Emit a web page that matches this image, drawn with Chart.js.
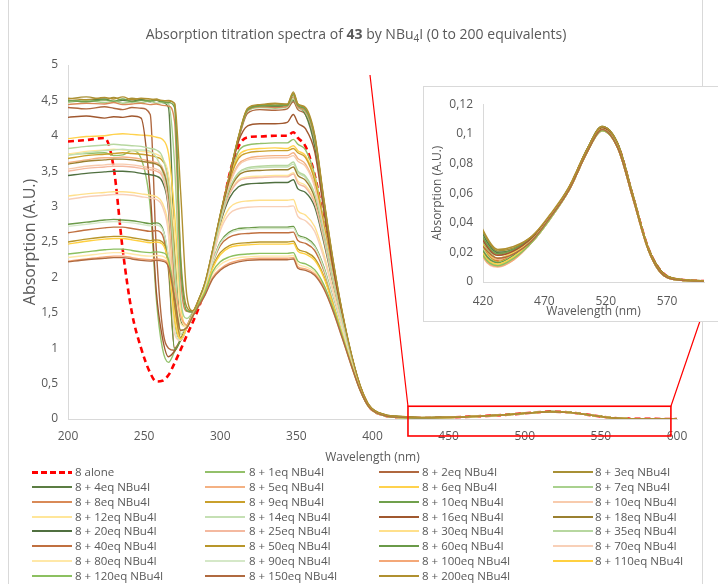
<!DOCTYPE html>
<html><head><meta charset="utf-8">
<script src="https://cdn.jsdelivr.net/npm/chart.js@4"></script>
<style>
html,body{margin:0;padding:0;background:#fff;}
#wrap{position:relative;width:718px;height:584px;overflow:hidden;font-family:'Open Sans',sans-serif;}
#main{position:absolute;left:0;top:0;}
#insetBox{position:absolute;left:423px;top:86px;width:300px;height:234px;border:1px solid #d9d9d9;background:#fff;}
#inset{position:absolute;left:0;top:0;}
.frame{position:absolute;top:0;width:1px;height:584px;background:#d9d9d9;}
.lg{position:absolute;font-size:11.5px;color:#595959;white-space:nowrap;line-height:14px;}
.sw{position:absolute;height:2px;width:40px;}
</style></head>
<body>
<div id="wrap">
  <div class="frame" style="left:8px"></div>
  <div class="frame" style="left:702px"></div>
  <canvas id="main" width="718" height="584"></canvas>
  <div id="insetBox"><canvas id="inset" width="295" height="233"></canvas></div>
  <div id="legend"></div>
</div>
<script>
// ---------- DATA ----------
const wavelengths = [200,212,224,230,236,242,248,254,258,262,266,270,274,278,282,286,290,295,300,306,312,318,326,336,344,348,351,356,362,368,374,380,386,392,398,408,420,432,445,460,475,490,505,517,530,542,555,568,585,600];

const insetTicks = [420, 470, 520, 570];

const seriesNames = ['8 alone','8 + 1eq NBu4I','8 + 2eq NBu4I','8 + 3eq NBu4I','8 + 4eq NBu4I','8 + 5eq NBu4I','8 + 6eq NBu4I','8 + 7eq NBu4I','8 + 8eq NBu4I','8 + 9eq NBu4I','8 + 10eq NBu4I','8 + 10eq NBu4I','8 + 12eq NBu4I','8 + 14eq NBu4I','8 + 16eq NBu4I','8 + 18eq NBu4I','8 + 20eq NBu4I','8 + 25eq NBu4I','8 + 30eq NBu4I','8 + 35eq NBu4I','8 + 40eq NBu4I','8 + 50eq NBu4I','8 + 60eq NBu4I','8 + 70eq NBu4I','8 + 80eq NBu4I','8 + 90eq NBu4I','8 + 100eq NBu4I','8 + 110eq NBu4I','8 + 120eq NBu4I','8 + 150eq NBu4I','8 + 200eq NBu4I'];

const seriesColors = ['#ff0000','#93c06a','#b0683f','#a89035','#5b7d43','#f4b183','#ffd24d','#a9d18e','#d98a57','#c9a02c','#70a04c','#f8cbad','#ffe699','#c5e0b4','#a0582f','#9a8030','#507040','#f4b9a0','#ffe08c','#b7d7a0','#c07040','#b8962a','#6a9a48','#f8d0b8','#ffe8a8','#d5e8c8','#f4a878','#ffd040','#8cc060','#b06a40','#b09030'];

const alone = [3.92,3.94,3.97,3.55,2.38,1.5,1.0,0.65,0.53,0.54,0.62,0.79,0.98,1.18,1.37,1.58,1.86,2.3,2.8,3.45,3.85,3.98,3.99,4.0,4.0,4.05,3.97,3.85,3.45,2.8,2.1,1.45,0.88,0.44,0.17,0.05,0.022,0.014,0.018,0.029,0.044,0.063,0.089,0.104,0.092,0.058,0.022,0.005,0.0012,0.0006];
const eq1 = [3.74,3.75,3.76,3.72,3.73,3.79,3.68,3.0,1.7,1.0,0.8,0.95,1.11,1.29,1.48,1.67,1.89,2.34,2.84,3.38,3.78,3.87,3.89,3.9,3.9,3.95,3.88,3.8,3.45,2.8,2.08,1.46,0.89,0.45,0.17,0.05,0.026,0.016,0.02,0.029,0.044,0.063,0.089,0.104,0.092,0.058,0.022,0.005,0.0012,0.0006];
const eq2 = [4.40,4.38,4.41,4.39,4.37,4.40,4.39,4.3,2.4,1.3,1.0,0.97,1.13,1.31,1.5,1.69,1.9,2.36,2.86,3.41,3.95,4.32,4.37,4.36,4.38,4.48,4.37,4.3,3.92,3.02,2.18,1.49,0.9,0.45,0.18,0.055,0.03,0.019,0.022,0.030,0.045,0.063,0.089,0.104,0.092,0.058,0.022,0.005,0.0012,0.0006];
const eq3 = [4.52,4.55,4.51,4.54,4.50,4.53,4.51,4.50,4.52,4.49,4.50,4.45,2.3,1.58,1.52,1.7,1.92,2.38,2.88,3.43,3.98,4.38,4.43,4.45,4.44,4.62,4.45,4.38,4.0,3.1,2.25,1.52,0.92,0.46,0.19,0.062,0.034,0.021,0.023,0.031,0.045,0.064,0.09,0.105,0.093,0.059,0.022,0.005,0.0015,0.0008];
const eq4 = [4.49,4.50,4.52,4.48,4.50,4.49,4.51,4.48,4.50,4.47,4.40,2.4,1.38,1.31,1.5,1.68,1.90,2.37,2.87,3.42,3.97,4.36,4.42,4.41,4.43,4.50,4.42,4.3,3.85,3.0,2.18,1.5,0.9,0.45,0.18,0.06,0.032,0.02,0.022,0.030,0.045,0.063,0.09,0.105,0.093,0.059,0.022,0.005,0.0014,0.0007];
const eq5 = [3.62,3.66,3.69,3.69,3.70,3.69,3.67,3.64,3.62,3.55,3.2,2.0,1.14,1.3,1.49,1.67,1.88,2.34,2.84,3.32,3.6,3.68,3.71,3.72,3.72,3.76,3.68,3.6,3.3,2.7,2.03,1.44,0.88,0.44,0.17,0.05,0.024,0.015,0.019,0.029,0.044,0.063,0.089,0.104,0.091,0.058,0.022,0.005,0.0012,0.0006];
const eq6 = [3.96,3.99,4.0,4.02,4.03,4.02,4.01,4.0,3.98,3.95,3.75,2.9,1.6,1.33,1.5,1.69,1.9,2.36,2.86,3.38,3.72,3.8,3.82,3.83,3.82,3.86,3.79,3.72,3.4,2.77,2.06,1.45,0.88,0.44,0.17,0.052,0.025,0.016,0.02,0.029,0.044,0.063,0.089,0.104,0.091,0.058,0.022,0.005,0.0012,0.0006];
const eq7 = [4.47,4.50,4.47,4.49,4.46,4.48,4.47,4.49,4.46,4.47,4.45,3.6,1.7,1.42,1.51,1.69,1.91,2.37,2.87,3.42,3.97,4.35,4.40,4.39,4.41,4.52,4.40,4.33,3.95,3.05,2.2,1.5,0.91,0.46,0.18,0.058,0.03,0.019,0.021,0.030,0.045,0.063,0.089,0.104,0.092,0.058,0.022,0.005,0.0012,0.0006];
const eq8 = [4.44,4.46,4.45,4.47,4.44,4.45,4.46,4.44,4.45,4.43,4.42,4.2,2.0,1.52,1.51,1.69,1.91,2.37,2.87,3.42,3.97,4.36,4.41,4.40,4.42,4.55,4.41,4.35,3.97,3.08,2.22,1.51,0.91,0.46,0.18,0.058,0.029,0.018,0.021,0.030,0.045,0.063,0.089,0.104,0.092,0.058,0.022,0.005,0.0012,0.0006];
const eq9 = [3.68,3.72,3.74,3.75,3.76,3.75,3.74,3.72,3.70,3.65,3.4,2.3,1.2,1.3,1.49,1.67,1.88,2.35,2.85,3.36,3.68,3.76,3.78,3.79,3.79,3.82,3.76,3.69,3.37,2.75,2.05,1.45,0.88,0.44,0.17,0.05,0.023,0.014,0.018,0.028,0.044,0.063,0.089,0.104,0.091,0.058,0.022,0.005,0.0012,0.0006];
const eq10a = [4.5,4.48,4.51,4.49,4.52,4.48,4.5,4.49,4.51,4.48,4.47,4.4,2.2,1.53,1.51,1.69,1.92,2.38,2.88,3.43,3.98,4.37,4.42,4.43,4.43,4.58,4.43,4.37,3.99,3.08,2.23,1.51,0.92,0.46,0.18,0.058,0.03,0.019,0.022,0.03,0.045,0.063,0.089,0.104,0.092,0.058,0.022,0.005,0.0012,0.0006];
const eq10b = [3.53,3.57,3.59,3.60,3.60,3.59,3.57,3.55,3.53,3.45,3.05,1.6,1.12,1.29,1.48,1.67,1.88,2.33,2.83,3.3,3.58,3.66,3.68,3.69,3.69,3.72,3.64,3.57,3.28,2.68,2.02,1.43,0.87,0.44,0.17,0.05,0.021,0.012,0.017,0.028,0.044,0.062,0.088,0.103,0.091,0.058,0.021,0.004,0.001,0.0005];
const eq12 = [3.74,3.78,3.80,3.81,3.80,3.79,3.78,3.76,3.74,3.68,3.45,2.6,1.5,1.31,1.49,1.67,1.88,2.32,2.78,3.18,3.38,3.42,3.43,3.44,3.44,3.48,3.36,3.3,3.08,2.56,1.95,1.39,0.86,0.43,0.17,0.05,0.022,0.013,0.018,0.028,0.044,0.062,0.088,0.103,0.091,0.058,0.021,0.004,0.001,0.0005];
const eq14 = [3.72,3.76,3.79,3.80,3.81,3.80,3.80,3.78,3.7,3.5,3.1,2.1,1.2,1.3,1.48,1.67,1.87,2.3,2.79,3.23,3.47,3.53,3.55,3.56,3.56,3.6,3.48,3.41,3.16,2.61,1.97,1.4,0.86,0.43,0.17,0.05,0.019,0.011,0.016,0.027,0.043,0.062,0.088,0.103,0.09,0.057,0.021,0.004,0.001,0.0005];
const eq16 = [4.26,4.28,4.25,4.27,4.26,4.28,4.25,3.2,1.8,1.15,0.88,0.96,1.12,1.3,1.49,1.68,1.89,2.35,2.85,3.4,3.92,4.14,4.17,4.17,4.19,4.3,4.18,4.1,3.78,2.95,2.15,1.48,0.9,0.45,0.18,0.055,0.028,0.018,0.021,0.03,0.045,0.063,0.089,0.104,0.092,0.058,0.022,0.005,0.0012,0.0006];
const eq18 = [3.6,3.64,3.66,3.67,3.67,3.66,3.64,3.62,3.6,3.52,3.15,1.8,1.12,1.29,1.48,1.66,1.87,2.32,2.8,3.22,3.44,3.5,3.51,3.52,3.52,3.56,3.44,3.37,3.13,2.59,1.96,1.4,0.86,0.43,0.17,0.05,0.02,0.012,0.017,0.028,0.044,0.062,0.088,0.103,0.091,0.058,0.021,0.004,0.001,0.0005];
const eq20 = [3.44,3.47,3.49,3.50,3.50,3.49,3.47,3.45,3.43,3.35,2.95,1.4,1.11,1.29,1.48,1.66,1.86,2.3,2.76,3.12,3.28,3.32,3.33,3.34,3.34,3.38,3.25,3.2,3.0,2.5,1.92,1.38,0.85,0.43,0.17,0.05,0.019,0.011,0.016,0.027,0.043,0.062,0.088,0.103,0.09,0.057,0.021,0.004,0.001,0.0005];
const eq25 = [3.5,3.54,3.56,3.57,3.57,3.56,3.54,3.52,3.5,3.42,3.0,1.7,1.13,1.3,1.48,1.66,1.86,2.31,2.78,3.17,3.36,3.4,3.41,3.42,3.42,3.46,3.33,3.27,3.05,2.54,1.94,1.39,0.86,0.43,0.17,0.05,0.02,0.012,0.017,0.028,0.044,0.062,0.088,0.103,0.091,0.058,0.021,0.004,0.001,0.0005];
const eq30 = [3.15,3.18,3.2,3.21,3.21,3.2,3.18,3.16,3.14,3.05,2.7,1.5,1.12,1.29,1.47,1.65,1.85,2.28,2.7,2.98,3.06,3.08,3.09,3.09,3.09,3.1,2.94,2.88,2.72,2.33,1.83,1.33,0.83,0.42,0.16,0.048,0.018,0.011,0.016,0.027,0.043,0.062,0.088,0.103,0.09,0.057,0.021,0.004,0.001,0.0005];
const eq35 = [3.82,3.85,3.87,3.88,3.87,3.86,3.85,3.82,3.8,3.7,3.3,2.2,1.25,1.3,1.48,1.67,1.87,2.3,2.8,3.25,3.48,3.55,3.57,3.58,3.58,3.63,3.5,3.43,3.18,2.62,1.98,1.4,0.86,0.43,0.17,0.05,0.022,0.013,0.018,0.028,0.044,0.062,0.088,0.103,0.091,0.058,0.021,0.004,0.001,0.0005];
const eq40 = [2.63,2.67,2.70,2.71,2.71,2.69,2.67,2.65,2.66,2.6,2.1,1.0,1.12,1.29,1.47,1.65,1.84,2.2,2.45,2.57,2.61,2.62,2.63,2.63,2.63,2.64,2.52,2.48,2.38,2.1,1.68,1.25,0.8,0.41,0.16,0.047,0.02,0.012,0.017,0.028,0.044,0.062,0.088,0.103,0.091,0.058,0.021,0.004,0.001,0.0005];
const eq50 = [2.5,2.54,2.57,2.58,2.58,2.56,2.54,2.52,2.53,2.5,2.3,1.6,1.15,1.3,1.47,1.65,1.83,2.15,2.35,2.45,2.48,2.49,2.5,2.5,2.5,2.51,2.4,2.36,2.27,2.02,1.63,1.22,0.79,0.41,0.16,0.047,0.018,0.011,0.016,0.027,0.043,0.062,0.088,0.103,0.09,0.057,0.021,0.004,0.001,0.0005];
const eq60 = [2.75,2.78,2.81,2.82,2.81,2.8,2.78,2.76,2.77,2.7,2.2,0.98,1.12,1.29,1.47,1.66,1.86,2.22,2.5,2.64,2.69,2.7,2.71,2.71,2.71,2.72,2.6,2.56,2.45,2.15,1.71,1.27,0.81,0.41,0.16,0.047,0.021,0.013,0.018,0.028,0.044,0.062,0.088,0.103,0.091,0.058,0.021,0.004,0.001,0.0005];
const eq70 = [3.1,3.14,3.16,3.17,3.17,3.16,3.14,3.12,3.1,3.0,2.6,1.2,1.11,1.29,1.47,1.66,1.85,2.27,2.66,2.9,2.97,2.99,3.0,3.0,3.0,3.01,2.86,2.8,2.65,2.28,1.8,1.31,0.82,0.42,0.16,0.048,0.017,0.01,0.015,0.027,0.043,0.062,0.088,0.102,0.09,0.057,0.021,0.004,0.001,0.0005];
const eq80 = [2.28,2.31,2.34,2.35,2.35,2.33,2.31,2.3,2.31,2.3,2.2,1.8,1.35,1.3,1.46,1.62,1.78,2.05,2.18,2.25,2.28,2.29,2.3,2.3,2.3,2.31,2.19,2.15,2.08,1.88,1.55,1.17,0.77,0.4,0.16,0.046,0.018,0.011,0.016,0.027,0.043,0.062,0.088,0.102,0.09,0.057,0.021,0.004,0.001,0.0005];
const eq90 = [2.72,2.75,2.78,2.79,2.78,2.77,2.75,2.73,2.74,2.68,2.3,1.3,1.12,1.29,1.47,1.65,1.85,2.21,2.48,2.62,2.67,2.68,2.69,2.69,2.69,2.7,2.58,2.54,2.43,2.13,1.7,1.26,0.8,0.41,0.16,0.047,0.019,0.012,0.017,0.028,0.044,0.062,0.088,0.103,0.09,0.057,0.021,0.004,0.001,0.0005];
const eq100 = [2.23,2.26,2.29,2.3,2.3,2.28,2.26,2.25,2.26,2.25,2.18,1.85,1.45,1.33,1.47,1.6,1.76,2.0,2.12,2.2,2.24,2.26,2.27,2.27,2.27,2.28,2.15,2.12,2.05,1.86,1.54,1.16,0.76,0.4,0.16,0.046,0.017,0.0105,0.015,0.027,0.043,0.062,0.088,0.102,0.09,0.057,0.021,0.004,0.001,0.0005];
const eq110 = [2.47,2.51,2.54,2.55,2.55,2.53,2.51,2.49,2.5,2.47,2.2,1.4,1.13,1.29,1.46,1.64,1.82,2.13,2.32,2.42,2.45,2.46,2.47,2.47,2.47,2.48,2.37,2.33,2.24,2.0,1.62,1.21,0.79,0.41,0.16,0.047,0.019,0.012,0.017,0.028,0.044,0.062,0.088,0.103,0.09,0.057,0.021,0.004,0.001,0.0005];
const eq120 = [2.33,2.36,2.39,2.4,2.4,2.38,2.36,2.35,2.36,2.35,2.25,1.75,1.25,1.29,1.46,1.63,1.79,2.08,2.22,2.29,2.32,2.33,2.34,2.34,2.34,2.35,2.23,2.19,2.11,1.9,1.57,1.18,0.77,0.4,0.16,0.046,0.018,0.011,0.016,0.027,0.043,0.062,0.088,0.102,0.09,0.057,0.021,0.004,0.001,0.0005];
const eq150 = [2.22,2.25,2.27,2.28,2.28,2.26,2.24,2.23,2.24,2.23,2.15,1.7,1.25,1.29,1.45,1.6,1.75,1.98,2.1,2.18,2.22,2.24,2.25,2.25,2.25,2.26,2.13,2.1,2.03,1.84,1.53,1.15,0.76,0.4,0.16,0.046,0.024,0.016,0.019,0.028,0.044,0.062,0.088,0.103,0.09,0.057,0.021,0.004,0.001,0.0005];
const eq200 = [4.53,4.51,4.54,4.52,4.55,4.51,4.53,4.52,4.51,4.5,4.49,4.46,3.2,1.75,1.53,1.69,1.93,2.39,2.89,3.44,3.99,4.39,4.44,4.46,4.45,4.6,4.45,4.4,4.02,3.12,2.26,1.53,0.93,0.47,0.19,0.064,0.035,0.022,0.024,0.031,0.046,0.064,0.09,0.105,0.093,0.059,0.022,0.005,0.0015,0.0008];

const seriesValues = [alone,eq1,eq2,eq3,eq4,eq5,eq6,eq7,eq8,eq9,eq10a,eq10b,eq12,eq14,eq16,eq18,eq20,eq25,eq30,eq35,eq40,eq50,eq60,eq70,eq80,eq90,eq100,eq110,eq120,eq150,eq200];

// ---------- HELPERS ----------
const FONT = "'Open Sans', sans-serif";
const GREY = '#595959';
const fmt = v => String(Math.round(v * 1000) / 1000).replace('.', ',');

function makeDatasets(width) {
  return seriesValues.map((vals, i) => ({
    label: seriesNames[i],
    data: wavelengths.map((w, j) => ({x: w, y: vals[j]})),
    borderColor: seriesColors[i],
    backgroundColor: seriesColors[i],
    borderWidth: i === 0 ? 2.6 : width,
    borderDash: i === 0 ? [6, 4] : [],
    pointRadius: 0,
    cubicInterpolationMode: 'monotone',
    fill: false,
    order: -i
  }));
}

const titlePlugin = {
  id: 'richTitle',
  afterDraw(chart) {
    const ctx = chart.ctx;
    const parts = [
      {t: 'Absorption titration spectra of ', f: `14px ${FONT}`, dy: 0},
      {t: '43', f: `bold 14px ${FONT}`, dy: 0},
      {t: ' by NBu', f: `14px ${FONT}`, dy: 0},
      {t: '4', f: `10px ${FONT}`, dy: 4},
      {t: 'I (0 to 200 equivalents)', f: `14px ${FONT}`, dy: 0}
    ];
    ctx.save();
    ctx.fillStyle = GREY;
    ctx.textBaseline = 'middle';
    let total = 0;
    parts.forEach(p => { ctx.font = p.f; p.w = ctx.measureText(p.t).width; total += p.w; });
    let x = 356 - total / 2;
    parts.forEach(p => { ctx.font = p.f; ctx.fillText(p.t, x, 35 + p.dy); x += p.w; });
    ctx.restore();
  }
};

const zoomMarker = {
  id: 'zoomMarker',
  afterDraw(chart) {
    const {ctx, scales: {x, y}} = chart;
    const x1 = x.getPixelForValue(423.3), x2 = x.getPixelForValue(596);
    const y1 = y.getPixelForValue(0.18), y2 = y.getPixelForValue(-0.24);
    ctx.save();
    ctx.strokeStyle = '#ff0000';
    ctx.lineWidth = 1.6;
    ctx.strokeRect(x1, y1, x2 - x1, y2 - y1);
    ctx.lineWidth = 1.2;
    ctx.beginPath();
    ctx.moveTo(370, 75); ctx.lineTo(x1, y1);
    ctx.moveTo(x2, y1); ctx.lineTo(700, 321);
    ctx.stroke();
    ctx.restore();
  }
};

// ---------- MAIN CHART ----------
new Chart(document.getElementById('main'), {
  type: 'line',
  data: {datasets: makeDatasets(1.4)},
  options: {
    responsive: false, animation: false, devicePixelRatio: 1,
    layout: {padding: {top: 65, right: 41, bottom: 115, left: 0}},
    plugins: {legend: {display: false}, tooltip: {enabled: false}, title: {display: false}},
    scales: {
      x: {
        type: 'linear', min: 200, max: 600,
        ticks: {stepSize: 50, padding: 10, color: GREY, font: {family: FONT, size: 12}, maxRotation: 0},
        grid: {display: false, drawTicks: false},
        border: {display: true, color: '#d9d9d9', width: 1},
        title: {display: true, text: 'Wavelength (nm)', color: GREY, font: {family: FONT, size: 12}, padding: {top: 0, bottom: 3.8}},
        afterFit: s => { s.height = 50; }
      },
      y: {
        type: 'linear', min: 0, max: 5,
        ticks: {stepSize: 0.5, padding: 10, color: GREY, font: {family: FONT, size: 12}, callback: v => fmt(v)},
        grid: {display: false, drawTicks: false},
        border: {display: true, color: '#d9d9d9', width: 1},
        title: {display: true, text: 'Absorption (A.U.)', color: GREY, font: {family: FONT, size: 16}, padding: {top: 20.4, bottom: 0}},
        afterFit: s => { s.width = 68; }
      }
    }
  },
  plugins: [titlePlugin, zoomMarker]
});

// ---------- INSET CHART ----------
new Chart(document.getElementById('inset'), {
  type: 'line',
  data: {datasets: makeDatasets(1.5)},
  options: {
    responsive: false, animation: false, devicePixelRatio: 1,
    layout: {padding: {top: 17, right: 15, bottom: 0, left: 0}},
    plugins: {legend: {display: false}, tooltip: {enabled: false}},
    scales: {
      x: {
        type: 'linear', min: 420, max: 600,
        afterBuildTicks: s => { s.ticks = insetTicks.map(v => ({value: v})); },
        ticks: {padding: 12, color: GREY, font: {family: FONT, size: 12}, maxRotation: 0},
        grid: {display: false, drawTicks: false},
        border: {display: true, color: '#d9d9d9', width: 1},
        title: {display: true, text: 'Wavelength (nm)', color: GREY, font: {family: FONT, size: 12}, padding: {top: 0, bottom: 0.8}},
        afterFit: s => { s.height = 38; }
      },
      y: {
        type: 'linear', min: 0, max: 0.12,
        ticks: {stepSize: 0.02, padding: 10, color: GREY, font: {family: FONT, size: 12}, callback: v => fmt(v)},
        grid: {display: false, drawTicks: false},
        border: {display: true, color: '#d9d9d9', width: 1},
        title: {display: true, text: 'Absorption (A.U.)', color: GREY, font: {family: FONT, size: 12}, padding: {top: 6.8, bottom: 0}},
        afterFit: s => { s.width = 59; }
      }
    }
  }
});

// ---------- LEGEND (4 columns, row-major) ----------
const legend = document.getElementById('legend');
const swatchX = [32, 205, 379, 553];
const textX = [75, 249, 422, 595];
seriesNames.forEach((name, i) => {
  const r = Math.floor(i / 4), c = i % 4;
  const cy = 472 + r * 14.85;
  const sw = document.createElement('div');
  sw.className = 'sw';
  sw.style.left = swatchX[c] + 'px';
  if (i === 0) {
    sw.style.top = (cy - 1.5) + 'px';
    sw.style.height = '3px';
    sw.style.background = 'repeating-linear-gradient(90deg,#ff0000 0 6px,transparent 6px 9px)';
  } else {
    sw.style.top = (cy - 1) + 'px';
    sw.style.background = seriesColors[i];
  }
  legend.appendChild(sw);
  const tx = document.createElement('div');
  tx.className = 'lg';
  tx.textContent = name;
  tx.style.left = textX[c] + 'px';
  tx.style.top = (cy - 7) + 'px';
  legend.appendChild(tx);
});
</script>
</body></html>
